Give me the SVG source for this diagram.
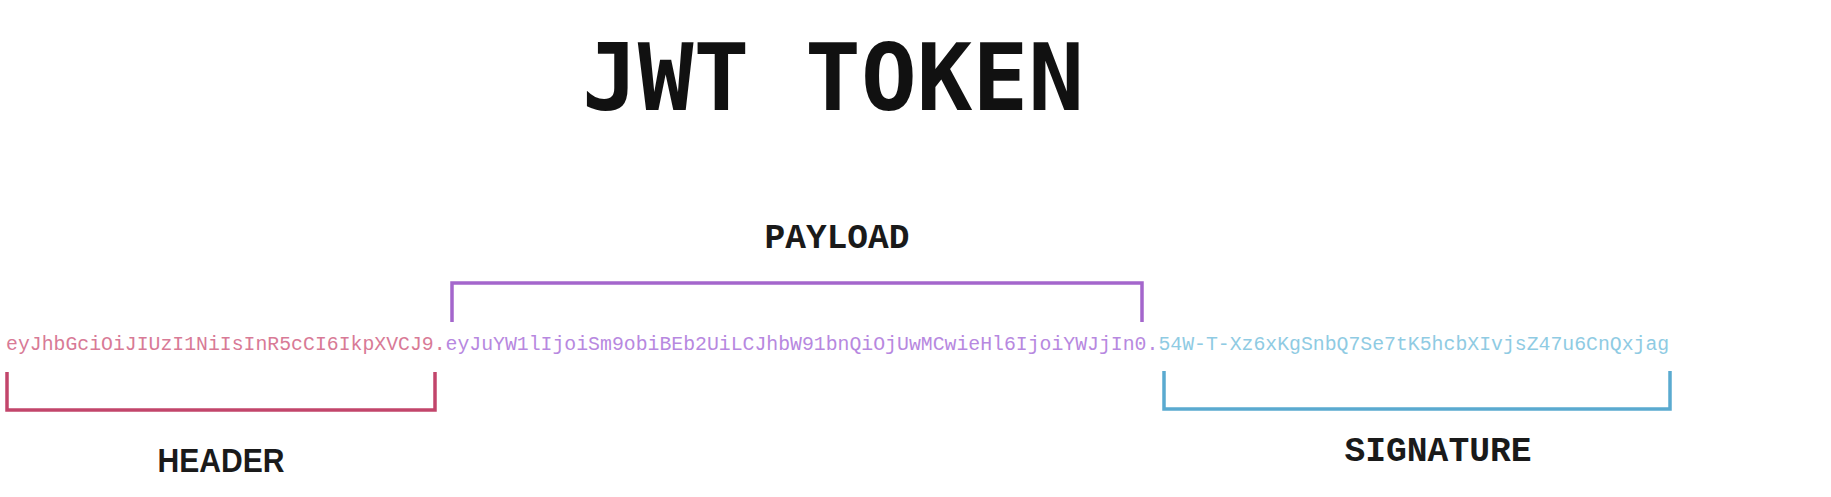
<svg xmlns="http://www.w3.org/2000/svg" width="1831" height="497" viewBox="0 0 1831 497">
<style>
.title{font-family:"DejaVu Sans Mono","Liberation Mono",monospace;font-weight:bold;font-size:92px;fill:#111}
.lbl{font-family:"Liberation Mono","DejaVu Sans Mono",monospace;font-weight:bold;font-size:35px;fill:#1a1a1a}
.lbls{font-family:"Liberation Sans",Arial,sans-serif;font-weight:bold;font-size:34px;fill:#1a1a1a}
.tok{font-family:"Liberation Mono","Courier New",monospace;font-size:19.81px}
.br{fill:none;stroke-width:3.5;stroke-linejoin:miter}
</style>
<rect width="1831" height="497" fill="#ffffff"/>
<g id="title"><text class="title" x="833" y="110" text-anchor="middle" textLength="502" lengthAdjust="spacingAndGlyphs">JWT TOKEN</text></g>
<g id="token">
<text class="tok" x="6" y="350"><tspan fill="#d87a96">eyJhbGciOiJIUzI1NiIsInR5cCI6IkpXVCJ9.</tspan><tspan fill="#b788e0">eyJuYW1lIjoiSm9obiBEb2UiLCJhbW91bnQiOjUwMCwieHl6IjoiYWJjIn0.</tspan><tspan fill="#8fcbe3">54W-T-Xz6xKgSnbQ7Se7tK5hcbXIvjsZ47u6CnQxjag</tspan></text>
</g>
<g id="connectors">
<path class="br" stroke="#c2456b" d="M7,372 V410 H435 V372"/>
<path class="br" stroke="#a466cc" d="M452,322 V283 H1142 V322"/>
<path class="br" stroke="#5aaad0" d="M1164,371 V409 H1670 V371"/>
</g>
<g id="header"><text class="lbls" x="221" y="472" text-anchor="middle" textLength="127" lengthAdjust="spacingAndGlyphs">HEADER</text></g>
<g id="payload"><text class="lbl" x="837" y="248" text-anchor="middle" textLength="145" lengthAdjust="spacingAndGlyphs">PAYLOAD</text></g>
<g id="signature"><text class="lbl" x="1438" y="461" text-anchor="middle" textLength="187" lengthAdjust="spacingAndGlyphs">SIGNATURE</text></g>
</svg>
